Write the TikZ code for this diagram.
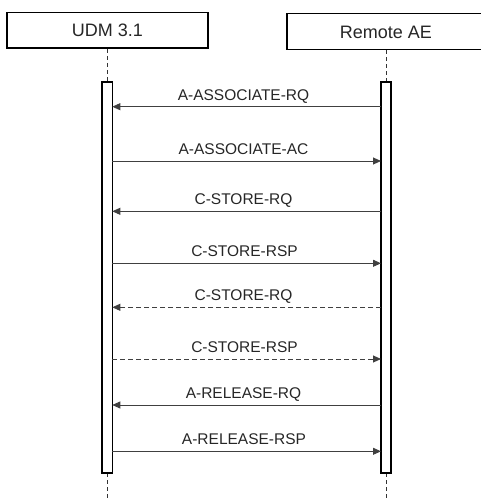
\documentclass[tikz,border=0pt]{standalone}
\usepackage{fontspec}
\setmainfont{Liberation Sans}
\usetikzlibrary{arrows.meta}
\begin{document}
\begin{tikzpicture}[x=1pt,y=-1pt,
  actor/.style={draw=black,line width=1.6pt,fill=white},
  bar/.style={draw=black,line width=1.2pt,fill=white},
  life/.style={draw=black!80,line width=0.7pt,dash pattern=on 4pt off 3pt},
  msg/.style={draw=black!75,line width=0.9pt,-{Triangle[length=8pt,width=7pt]}},
  dmsg/.style={msg,dash pattern=on 5pt off 3pt},
  lbl/.style={font=\fontsize{15.5}{17}\selectfont,text=black!85,inner sep=0pt,anchor=base}]
\useasboundingbox (0,0) rectangle (480,501);
% actors
\draw[actor] (7,12.5) rectangle (208,48);
\node[font=\fontsize{18}{20}\selectfont,text=black!85] (udm) at (107.5,30.5) {UDM 3.1};
\draw[actor] (287,13.5) rectangle (483,49.5);
\node[font=\fontsize{18}{20}\selectfont,text=black!85] (rae) at (386,32) {Remote AE};
% lifelines
\coordinate (lt) at (107,48.8);
\coordinate (lb) at (107,501);
\coordinate (rt) at (386,50.3);
\coordinate (rb) at (386,501);
\draw[life] (lt) -- (107,82);
\draw[life] (107,473) -- (lb);
\draw[life] (rt) -- (386,82);
\draw[life] (386,473) -- (rb);
% activation bars
\draw[bar] (102,82) rectangle (112.3,473);
\draw[bar] (381,82) rectangle (391,473);
\coordinate (L1) at (112.3,106.7); \coordinate (R1) at (381,106.7);
\coordinate (L2) at (112.3,161);   \coordinate (R2) at (381,161);
\coordinate (L3) at (112.3,211.3); \coordinate (R3) at (381,211.3);
\coordinate (L4) at (112.3,263.3); \coordinate (R4) at (381,263.3);
\coordinate (L5) at (112.3,307.3); \coordinate (R5) at (381,307.3);
\coordinate (L6) at (112.3,359);   \coordinate (R6) at (381,359);
\coordinate (L7) at (112.3,405);   \coordinate (R7) at (381,405);
\coordinate (L8) at (112.3,451.3); \coordinate (R8) at (381,451.3);
\draw[msg] (R1) -- (L1);
\draw[msg] (L2) -- (R2);
\draw[msg] (R3) -- (L3);
\draw[msg] (L4) -- (R4);
\draw[dmsg] (R5) -- (L5);
\draw[dmsg] (L6) -- (R6);
\draw[msg] (R7) -- (L7);
\draw[msg] (L8) -- (R8);
\node[lbl] (m1) at (243.5,100) {A-ASSOCIATE-RQ};
\node[lbl] (m2) at (243.5,154.3) {A-ASSOCIATE-AC};
\node[lbl] (m3) at (243.5,204.5) {C-STORE-RQ};
\node[lbl] (m4) at (244.5,256.5) {C-STORE-RSP};
\node[lbl] (m5) at (243.5,300.5) {C-STORE-RQ};
\node[lbl] (m6) at (244.5,352) {C-STORE-RSP};
\node[lbl] (m7) at (243.5,398.3) {A-RELEASE-RQ};
\node[lbl] (m8) at (244,444.5) {A-RELEASE-RSP};
\end{tikzpicture}
\end{document}
